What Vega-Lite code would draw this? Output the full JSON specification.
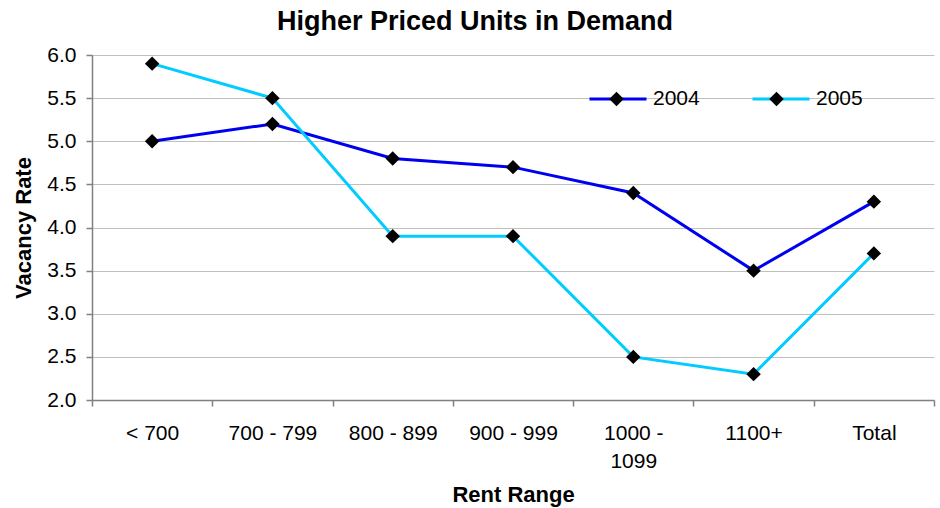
{
  "$schema": "https://vega.github.io/schema/vega-lite/v6.json",
  "autosize": {"type": "none"},
  "padding": {"left": 92, "top": 55, "right": 6, "bottom": 108},
  "width": 842,
  "height": 345,
  "background": "white",
  "title": {
    "text": "Higher Priced Units in Demand",
    "fontSize": 27,
    "fontWeight": "bold",
    "font": "Liberation Sans",
    "color": "#000000",
    "anchor": "middle",
    "frame": "group",
    "dx": -38,
    "dy": 27,
    "baseline": "alphabetic",
    "offset": 14
  },
  "config": {
    "font": "Liberation Sans",
    "view": {"stroke": null},
    "axis": {
      "labelFont": "Liberation Sans",
      "titleFont": "Liberation Sans",
      "labelColor": "#000000",
      "titleColor": "#000000",
      "domainColor": "#808080",
      "tickColor": "#808080",
      "gridColor": "#C0C0C0",
      "gridWidth": 1,
      "domainWidth": 1.5,
      "tickWidth": 1.5
    }
  },
  "data": {
    "values": [
      {"range": "< 700", "year": "2004", "rate": 5.0},
      {"range": "700 - 799", "year": "2004", "rate": 5.2},
      {"range": "800 - 899", "year": "2004", "rate": 4.8},
      {"range": "900 - 999", "year": "2004", "rate": 4.7},
      {"range": "1000 - 1099", "year": "2004", "rate": 4.4},
      {"range": "1100+", "year": "2004", "rate": 3.5},
      {"range": "Total", "year": "2004", "rate": 4.3},
      {"range": "< 700", "year": "2005", "rate": 5.9},
      {"range": "700 - 799", "year": "2005", "rate": 5.5},
      {"range": "800 - 899", "year": "2005", "rate": 3.9},
      {"range": "900 - 999", "year": "2005", "rate": 3.9},
      {"range": "1000 - 1099", "year": "2005", "rate": 2.5},
      {"range": "1100+", "year": "2005", "rate": 2.3},
      {"range": "Total", "year": "2005", "rate": 3.7}
    ]
  },
  "encoding": {
    "x": {
      "field": "range",
      "type": "nominal",
      "sort": null,
      "scale": {"paddingInner": 0, "paddingOuter": 0},
      "axis": {
        "title": "Rent Range",
        "titleFontSize": 22,
        "titleFontWeight": "bold",
        "titleBaseline": "alphabetic",
        "titleY": 101,
        "labelAngle": 0,
        "labelFontSize": 21,
        "labelPadding": 16,
        "labelLineHeight": 28,
        "labelExpr": "datum.label == '1000 - 1099' ? ['1000 -', '1099'] : datum.label",
        "tickSize": 6,
        "tickBand": "extent",
        "grid": false
      }
    },
    "y": {
      "field": "rate",
      "type": "quantitative",
      "scale": {"domain": [2, 6], "nice": false, "zero": false},
      "axis": {
        "title": "Vacancy Rate",
        "titleFontSize": 22,
        "titleFontWeight": "bold",
        "titlePadding": 11,
        "values": [2, 2.5, 3, 3.5, 4, 4.5, 5, 5.5, 6],
        "format": ".1f",
        "labelFontSize": 21,
        "labelPadding": 10,
        "tickSize": 6,
        "grid": true
      }
    }
  },
  "layer": [
    {
      "mark": {"type": "line", "strokeWidth": 3},
      "encoding": {
        "stroke": {
          "field": "year",
          "type": "nominal",
          "scale": {"domain": ["2004", "2005"], "range": ["#0000F0", "#00CCFF"]},
          "legend": {
            "title": null,
            "orient": "none",
            "direction": "horizontal",
            "legendX": 496,
            "legendY": 36,
            "symbolType": "M-1,0H1",
            "symbolSize": 3249,
            "symbolStrokeWidth": 3,
            "clipHeight": 16,
            "labelFontSize": 21,
            "labelColor": "#000000",
            "labelOffset": 5,
            "columnPadding": 51,
            "zindex": 1
          }
        }
      }
    },
    {
      "mark": {"type": "point", "shape": "diamond", "filled": true, "size": 210, "opacity": 1, "strokeWidth": 0},
      "encoding": {
        "fill": {
          "field": "year",
          "type": "nominal",
          "scale": {"range": ["#000000", "#000000"]},
          "legend": {
            "title": null,
            "orient": "none",
            "direction": "horizontal",
            "legendX": 517,
            "legendY": 36,
            "symbolType": "diamond",
            "symbolSize": 210,
            "symbolStrokeWidth": 0,
            "symbolOpacity": 1,
            "clipHeight": 16,
            "labelExpr": "''",
            "labelOffset": 0,
            "columnPadding": 145,
            "zindex": 2
          }
        }
      }
    }
  ]
}
